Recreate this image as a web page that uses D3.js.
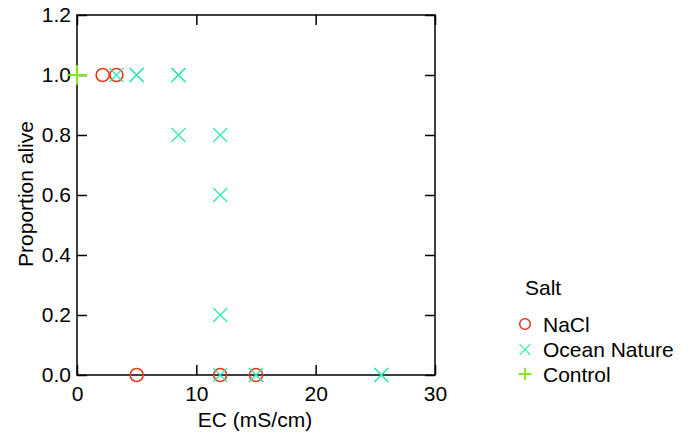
<!DOCTYPE html>
<html><head><meta charset="utf-8">
<script src="https://cdn.jsdelivr.net/npm/d3@7"></script>
<style>body{margin:0;background:#fff}</style>
</head><body><svg id="c" width="691" height="434" font-family="'Liberation Sans', Arial, Helvetica, sans-serif"></svg>
<script>
const xTicks = [0, 10, 20, 30];
const yTicks = [0.0, 0.2, 0.4, 0.6, 0.8, 1.0, 1.2];
const naclX = [2.15, 3.3, 5.0, 12.0, 15.0];
const naclY = [1.0, 1.0, 0.0, 0.0, 0.0];
const oceanX = [3.3, 5.0, 5.0, 8.5, 8.5, 8.5, 12.0, 12.0, 12.0, 12.0, 15.0, 15.0, 25.5, 25.5];
const oceanY = [1.0, 1.0, 1.0, 1.0, 1.0, 0.8, 0.8, 0.6, 0.2, 0.0, 0.0, 0.0, 0.0, 0.0];
const controlX = [0, 0, 0];
const controlY = [1.0, 1.0, 1.0];
const seriesNames = ["NaCl", "Ocean Nature", "Control"];
const colors = {"NaCl": "#e83a18", "Ocean Nature": "#2ee8b0", "Control": "#7ee81e"};

const FONT = "'Liberation Sans', Arial, Helvetica, sans-serif";
const svg = d3.select("#c");
const L = 77, R = 435, T = 15, B = 375;
const x = d3.scaleLinear().domain([0, 30]).range([L, R]);
const y = d3.scaleLinear().domain([0, 1.2]).range([B, T]);

svg.append("rect").attr("x", L).attr("y", T).attr("width", R - L).attr("height", B - T)
  .attr("fill", "none").attr("stroke", "#000").attr("stroke-width", 1.5);

const ax = (sel) => { sel.selectAll(".domain").remove(); sel.attr("font-family", FONT).attr("font-size", 21); };
svg.append("g").attr("transform", `translate(0,${B})`)
  .call(d3.axisBottom(x).tickValues(xTicks).tickSize(-10).tickPadding(11).tickFormat(d3.format("d")))
  .call(ax);
svg.append("g").attr("transform", `translate(0,${T})`)
  .call(d3.axisTop(x).tickValues(xTicks).tickSize(-10).tickFormat(""))
  .call(ax);
svg.append("g").attr("transform", `translate(${L},0)`)
  .call(d3.axisLeft(y).tickValues(yTicks).tickSize(-10).tickPadding(6).tickFormat(d3.format(".1f")))
  .call(ax);
svg.append("g").attr("transform", `translate(${R},0)`)
  .call(d3.axisRight(y).tickValues(yTicks).tickSize(-10).tickFormat(""))
  .call(ax);
svg.selectAll(".tick line").attr("stroke", "#000").attr("stroke-width", 1.5);
svg.selectAll(".tick text").attr("fill", "#000");

svg.append("text").attr("x", 255).attr("y", 427).attr("text-anchor", "middle")
  .attr("font-family", FONT).attr("font-size", 21).text("EC (mS/cm)");
svg.append("text").attr("transform", `translate(33,194) rotate(-90)`)
  .attr("text-anchor", "middle").attr("font-family", FONT).attr("font-size", 21).text("Proportion alive");

function circle(sel, cx, cy, r, c) {
  sel.append("circle").attr("cx", cx).attr("cy", cy).attr("r", r)
    .attr("fill", "none").attr("stroke", c).attr("stroke-width", 1.6);
}
function cross(sel, cx, cy, s, c) {
  sel.append("path").attr("d", `M${cx - s},${cy - s}L${cx + s},${cy + s}M${cx - s},${cy + s}L${cx + s},${cy - s}`)
    .attr("stroke", c).attr("stroke-width", 1.2).attr("fill", "none");
}
function plus(sel, cx, cy, s, c) {
  sel.append("path").attr("d", `M${cx - s},${cy}L${cx + s},${cy}M${cx},${cy - s}L${cx},${cy + s}`)
    .attr("stroke", c).attr("stroke-width", 1.8).attr("fill", "none");
}
const m = svg.append("g");
naclX.forEach((v, i) => circle(m, x(v), y(naclY[i]), 6.5, colors["NaCl"]));
oceanX.forEach((v, i) => cross(m, x(v), y(oceanY[i]), 7, colors["Ocean Nature"]));
controlX.forEach((v, i) => plus(m, x(v), y(controlY[i]), 9.5, colors["Control"]));

const lg = svg.append("g").attr("font-family", FONT);
lg.append("text").attr("x", 525).attr("y", 295).attr("font-size", 21).text("Salt");
const ly = [324, 349.5, 374];
const sym = [circle, cross, plus];
const sz = [5.3, 5.3, 6.3];
seriesNames.forEach((n, i) => {
  sym[i](lg, 525, ly[i], sz[i], colors[n]);
  lg.append("text").attr("x", 543).attr("y", ly[i] + 7.5).attr("font-size", 21).text(n);
});
</script></body></html>
